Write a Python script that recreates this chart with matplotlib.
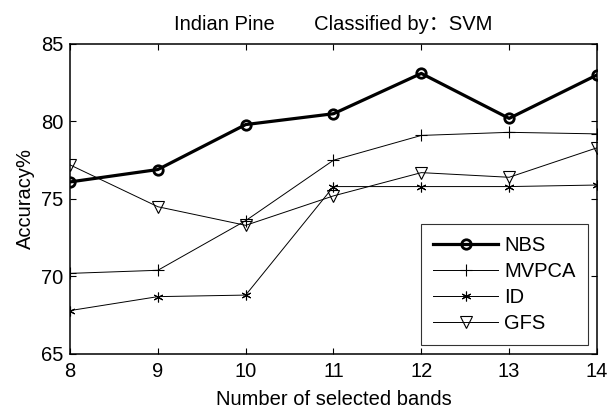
import matplotlib
matplotlib.use("Agg")
import matplotlib.pyplot as plt

plt.rcParams['font.family'] = ['Liberation Sans', 'Noto Sans CJK SC', 'DejaVu Sans']

bands = [8, 9, 10, 11, 12, 13, 14]
nbs = [76.1, 76.9, 79.8, 80.5, 83.1, 80.2, 83.0]
mvpca = [70.2, 70.4, 73.6, 77.5, 79.1, 79.3, 79.2]
idm = [67.8, 68.7, 68.8, 75.8, 75.8, 75.8, 75.9]
gfs = [77.2, 74.5, 73.3, 75.2, 76.7, 76.4, 78.3]

fig = plt.figure(figsize=(6.11, 4.09), dpi=100)
ax = fig.add_axes([0.1146, 0.1345, 0.8624, 0.758])

ax.plot(bands, nbs, color='black', lw=2.3, marker='o', ms=6.8, mfc='none',
        mew=2.0, label='NBS', zorder=5)
ax.plot(bands, mvpca, color='black', lw=0.7, marker='+', ms=8.5, mew=0.8,
        label='MVPCA')
ax.plot(bands, idm, color='black', lw=0.7, marker=(6, 2, 0), ms=7, mew=0.8,
        label='ID')
ax.plot(bands, gfs, color='black', lw=0.7, marker='v', ms=9, mfc='none',
        mew=0.8, label='GFS')

ax.set_xlim(8, 14)
ax.set_ylim(65, 85)
ax.set_xticks(bands)
ax.set_yticks([65, 70, 75, 80, 85])
ax.tick_params(direction='in', top=True, right=True, labelsize=14.5,
               length=4.5, width=0.8)
ax.tick_params(axis='y', pad=5)
ax.tick_params(axis='x', pad=6)
for s in ax.spines.values():
    s.set_linewidth(1.1)

ax.set_xlabel('Number of selected bands', fontsize=14.5, labelpad=6)
ax.set_ylabel('Accuracy%', fontsize=14.5, labelpad=4)
ax.set_title('Indian Pine       Classified by\uff1aSVM', fontsize=14.5, pad=10)

leg = ax.legend(loc='lower right', fontsize=14.5, frameon=True, fancybox=False,
                edgecolor='black', handlelength=3.25, borderaxespad=0.45,
                labelspacing=0.35, handletextpad=0.3, borderpad=0.6)
leg.get_frame().set_linewidth(0.8)

fig.savefig('out.png', dpi=100)
